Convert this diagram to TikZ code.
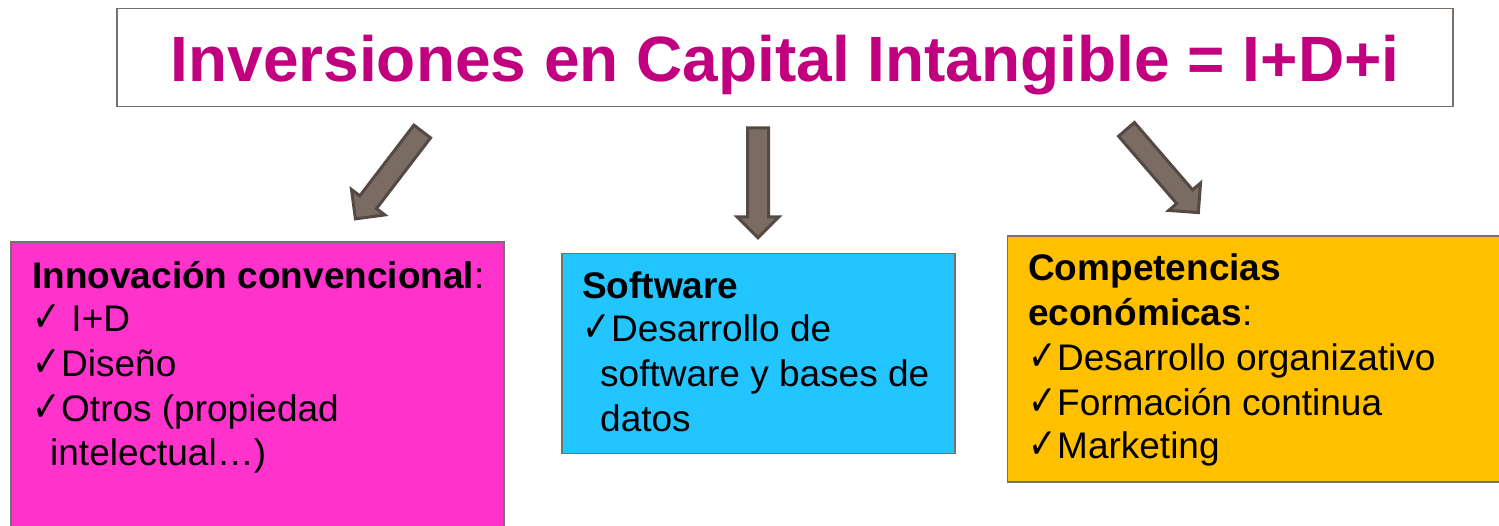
\documentclass[tikz,border=0pt]{standalone}
\usepackage{graphicx}
\usepackage{fontspec}
\setmainfont{Liberation Sans}
\newfontfamily\chk{DejaVu Sans}
\usetikzlibrary{shapes.arrows}
\definecolor{titlemag}{HTML}{C0007F}
\definecolor{pinkbox}{HTML}{FF33CC}
\definecolor{cyanbox}{HTML}{22C5FF}
\definecolor{goldbox}{HTML}{FFC000}
\definecolor{boxedge}{HTML}{78706A}
\definecolor{arrfill}{HTML}{7A6B63}
\definecolor{arredge}{HTML}{554943}
\newcommand{\ck}{\makebox[29pt][l]{\scalebox{1}[1.25]{\chk\fontsize{34}{37}\selectfont ✓}}}
\begin{document}
\begin{tikzpicture}[x=1pt,y=-1pt,
  box/.style={draw=boxedge, line width=1.6pt, anchor=north west, inner sep=0pt, outer sep=0pt},
  txt/.style={anchor=base west, inner sep=0pt, font=\fontsize{37}{45}\selectfont},
  bigarrow/.style={single arrow, draw=arredge, fill=arrfill, line width=3pt, inner xsep=0pt, inner ysep=9pt,
    minimum width=41pt, single arrow head extend=10.5pt, single arrow tip angle=90, minimum height=110pt}]
\useasboundingbox (0,0) rectangle (1499,525);
% title
\node[box, fill=white, minimum width=1336pt, minimum height=98pt] (tbox) at (117,8.5) {};
\node[anchor=base, inner sep=0pt, text=titlemag, font=\fontsize{64}{78}\selectfont\bfseries] (title) at (785,81.7) {Inversiones en Capital Intangible = I+D+i};
% boxes
\node[box, fill=pinkbox, minimum width=493pt, minimum height=320pt] (bL) at (11,242) {};
\node[box, fill=cyanbox, minimum width=393pt, minimum height=200pt] (bM) at (562,253.5) {};
\node[box, fill=goldbox, minimum width=520pt, minimum height=246pt] (bR) at (1007.5,236) {};
% arrows
\node[bigarrow, rotate=-127.4] (aL) at (392,171) {};
\node[bigarrow, rotate=-90] (aM) at (758,177.5) {};
\node[bigarrow, rotate=-49.2] (aR) at (1159,167) {};
% left text
\node[txt] (l1) at (32,288.3) {\textbf{Innovación convencional}:};
\node[txt] (l2) at (32,331.7) {\ck\ I+D};
\node[txt] (l3) at (32,376.7) {\ck Diseño};
\node[txt] (l4) at (32,421.7) {\ck Otros (propiedad};
\node[txt] (l5) at (50,465) {intelectual…)};
% middle text
\node[txt] (m1) at (582,298.3) {\textbf{Software}};
\node[txt] (m2) at (582,341.7) {\ck Desarrollo de};
\node[txt] (m3) at (600,386.7) {software y bases de};
\node[txt] (m4) at (600,431.7) {datos};
% right text
\node[txt] (r1) at (1028,280) {\textbf{Competencias}};
\node[txt] (r2) at (1028,325) {\textbf{económicas}:};
\node[txt] (r3) at (1028,370) {\ck Desarrollo organizativo};
\node[txt] (r4) at (1028,415) {\ck Formación continua};
\node[txt] (r5) at (1028,458.5) {\ck Marketing};
\end{tikzpicture}
\end{document}
